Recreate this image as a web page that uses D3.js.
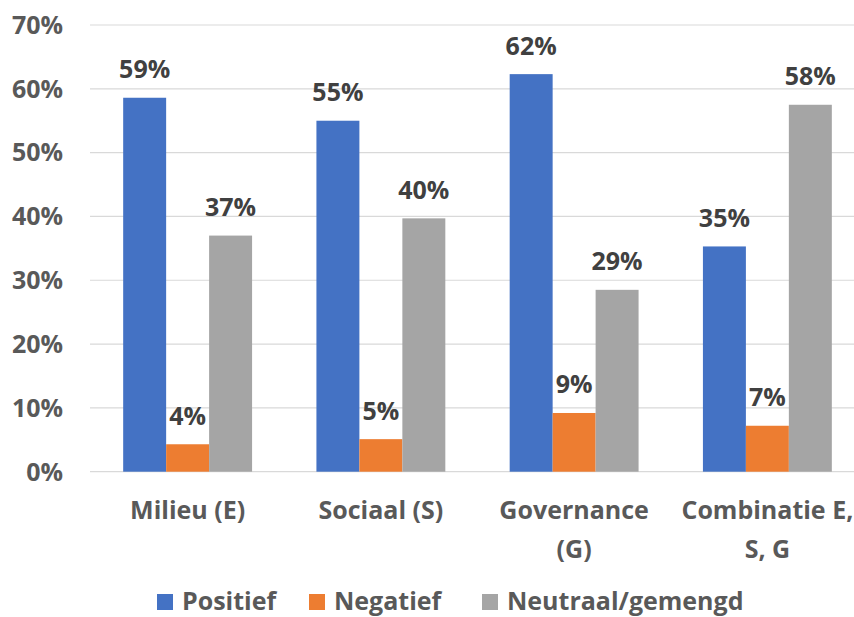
<!DOCTYPE html>
<html>
<head>
<meta charset="utf-8">
<script src="https://cdn.jsdelivr.net/npm/d3@7"></script>
<style>
  html, body { margin: 0; padding: 0; background: #fff; }
  svg { display: block; font-family: "Open Sans", "DejaVu Sans", sans-serif; font-weight: 700; }
</style>
</head>
<body>
<svg id="chart" width="854" height="617"></svg>
<script>
const categories = [["Milieu (E)"], ["Sociaal (S)"], ["Governance", "(G)"], ["Combinatie E,", "S, G"]];
const categoryKeys = ["Milieu (E)", "Sociaal (S)", "Governance (G)", "Combinatie E, S, G"];
const seriesNames = ["Positief", "Negatief", "Neutraal/gemengd"];
const positief = [0.586, 0.550, 0.623, 0.353];
const negatief = [0.043, 0.051, 0.092, 0.072];
const neutraal = [0.370, 0.397, 0.285, 0.575];
const valueLabels = [["59%", "4%", "37%"], ["55%", "5%", "40%"], ["62%", "9%", "29%"], ["35%", "7%", "58%"]];
const yTicks = [0, 0.1, 0.2, 0.3, 0.4, 0.5, 0.6, 0.7];
const colors = ["#4472C4", "#ED7D31", "#A5A5A5"];

const seriesValues = [positief, negatief, neutraal];
const svg = d3.select("#chart");

const y = d3.scaleLinear().domain([0, 0.7]).range([471.7, 25]);
const x0 = d3.scaleBand().domain(categoryKeys).range([91, 864]).paddingInner(0.333).paddingOuter(0.1665);
const x1 = d3.scaleBand().domain(seriesNames).range([0, x0.bandwidth()]);

// gridlines
svg.append("g").selectAll("line").data(yTicks).join("line")
  .attr("x1", 90).attr("x2", 854)
  .attr("y1", d => y(d)).attr("y2", d => y(d))
  .attr("stroke", "#d9d9d9").attr("stroke-width", 1.2);

// y tick labels
svg.append("g").selectAll("text").data(yTicks).join("text")
  .attr("x", 63).attr("y", d => y(d) + 8.8)
  .attr("text-anchor", "end")
  .attr("font-size", 25).attr("fill", "#595959")
  .text(d => d3.format(".0%")(d));

// bars
const groups = svg.append("g").selectAll("g").data(categoryKeys).join("g")
  .attr("transform", d => `translate(${x0(d)},0)`);

groups.each(function(cat, ci) {
  const g = d3.select(this);
  seriesNames.forEach((s, si) => {
    const v = seriesValues[si][ci];
    g.append("rect")
      .attr("x", x1(s)).attr("width", x1.bandwidth())
      .attr("y", y(v)).attr("height", y(0) - y(v))
      .attr("fill", colors[si]);
    g.append("text")
      .attr("x", x1(s) + x1.bandwidth() / 2)
      .attr("y", y(v) - 19.5)
      .attr("text-anchor", "middle")
      .attr("font-size", 25).attr("fill", "#404040")
      .text(valueLabels[ci][si]);
  });
});

// category labels
categoryKeys.forEach((k, ci) => {
  const t = svg.append("text")
    .attr("text-anchor", "middle")
    .attr("font-size", 25).attr("fill", "#595959");
  categories[ci].forEach((line, li) => {
    t.append("tspan")
      .attr("x", x0(k) + x0.bandwidth() / 2)
      .attr("y", 519 + li * 39)
      .text(line);
  });
});

// legend
const legendX = [157, 309, 482];
const leg = svg.append("g");
seriesNames.forEach((s, i) => {
  leg.append("rect").attr("x", legendX[i]).attr("y", 594).attr("width", 16).attr("height", 16).attr("fill", colors[i]);
  leg.append("text").attr("x", legendX[i] + 25).attr("y", 610)
    .attr("font-size", 25).attr("fill", "#595959").text(s);
});
</script>
</body>
</html>
